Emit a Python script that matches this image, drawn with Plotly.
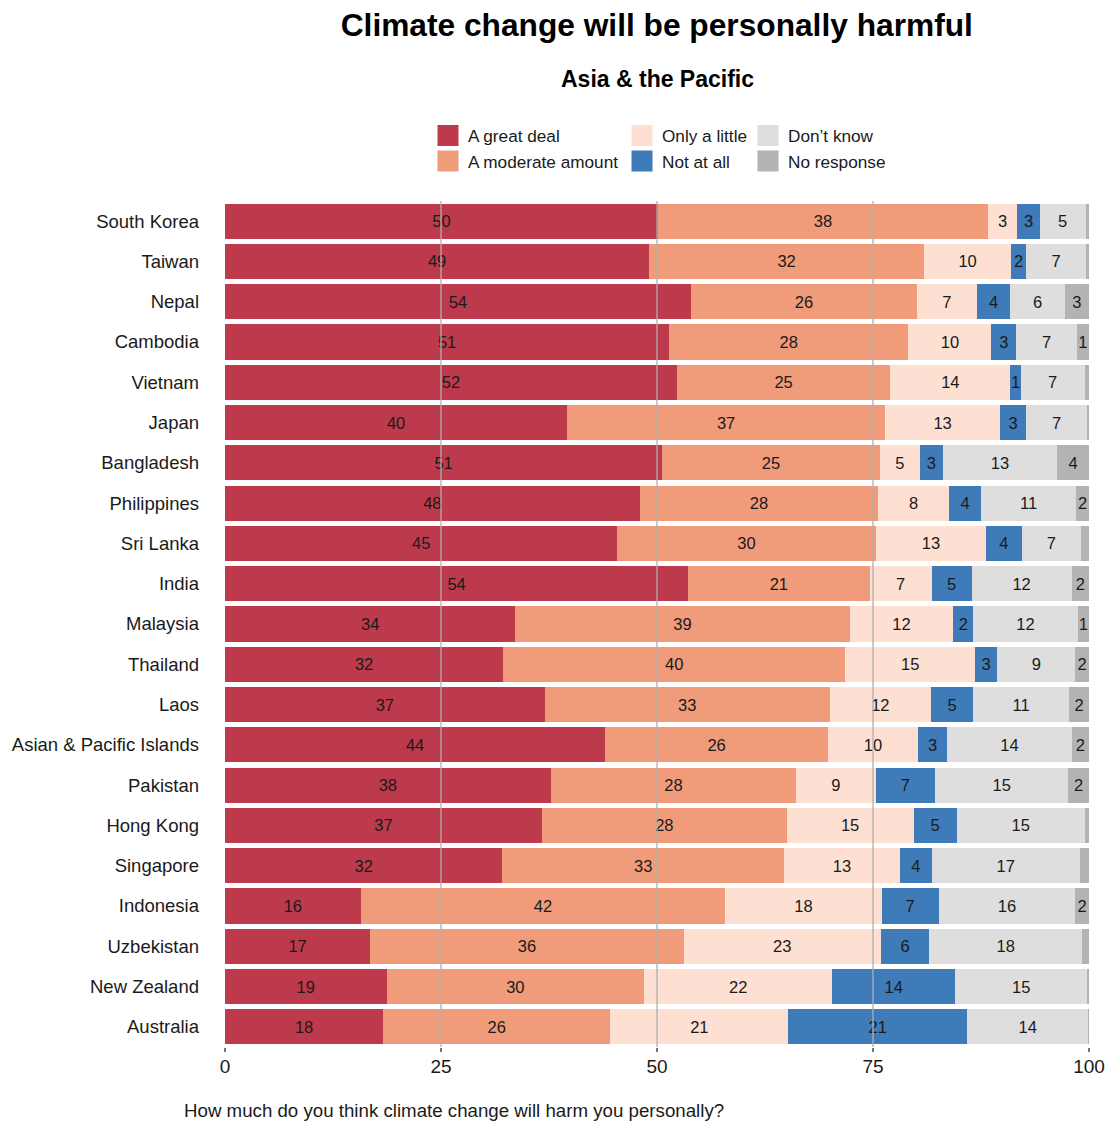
import plotly.graph_objects as go

countries = ["South Korea", "Taiwan", "Nepal", "Cambodia", "Vietnam", "Japan", "Bangladesh",
             "Philippines", "Sri Lanka", "India", "Malaysia", "Thailand", "Laos",
             "Asian & Pacific Islands", "Pakistan", "Hong Kong", "Singapore", "Indonesia",
             "Uzbekistan", "New Zealand", "Australia"]

great_deal = [50.1, 49.1, 53.9, 51.4, 52.3, 39.6, 50.6, 48.0, 45.4, 53.6, 33.6, 32.2, 37.0,
              44.0, 37.7, 36.7, 32.1, 15.7, 16.8, 18.7, 18.3]
moderate = [38.2, 31.8, 26.2, 27.7, 24.7, 36.8, 25.2, 27.6, 29.9, 21.0, 38.7, 39.6, 33.0,
            25.8, 28.4, 28.3, 32.6, 42.2, 36.3, 29.8, 26.3]
little = [3.4, 10.1, 6.9, 9.6, 13.9, 13.3, 4.6, 8.2, 12.8, 7.2, 12.0, 15.0, 11.7,
          10.4, 9.2, 14.7, 13.4, 18.1, 22.8, 21.8, 20.6]
not_at_all = [2.6, 1.7, 3.9, 2.9, 1.2, 3.0, 2.7, 3.7, 4.1, 4.6, 2.3, 2.6, 4.9,
              3.4, 6.9, 5.0, 3.7, 6.6, 5.6, 14.2, 20.7]
dont_know = [5.3, 7.0, 6.3, 7.0, 7.4, 7.1, 13.2, 11.0, 6.9, 11.6, 12.1, 9.0, 11.1,
             14.4, 15.4, 14.8, 17.1, 15.8, 17.7, 15.3, 14.0]
no_response = [0.4, 0.3, 2.8, 1.4, 0.5, 0.2, 3.7, 1.5, 0.9, 2.0, 1.3, 1.6, 2.3,
               2.0, 2.4, 0.5, 1.1, 1.6, 0.8, 0.2, 0.1]

series_names = ["A great deal", "A moderate amount", "Only a little", "Not at all",
                "Don\u2019t know", "No response"]
series_values = [great_deal, moderate, little, not_at_all, dont_know, no_response]
series_colors = ["#BC3A4B", "#F09B79", "#FDE0D1", "#3F7BB8", "#DEDEDE", "#B3B3B3"]
legend_ids = ["legend", "legend", "legend2", "legend2", "legend3", "legend3"]

x_ticks = [0, 25, 50, 75, 100]
grid_lines = [25, 50, 75]

title_text = "Climate change will be personally harmful"
subtitle_text = "Asia & the Pacific"
caption_text = "How much do you think climate change will harm you personally?"

FONT = "Liberation Sans, Arial, sans-serif"


def label(v):
    return str(int(v + 0.5)) if v >= 1.2 else ""


fig = go.Figure()
for name, vals, col in zip(series_names, series_values, series_colors):
    fig.add_trace(go.Bar(
        y=countries, x=vals, orientation="h", name=name,
        marker=dict(color=col, line=dict(width=0)),
        text=[label(v) for v in vals], textposition="inside",
        insidetextanchor="middle", textangle=0, constraintext="none",
        insidetextfont=dict(family=FONT, size=16.5, color="#1a1a1a"),
        showlegend=False, hoverinfo="x+y+name",
    ))

# legend-only entries (large square swatches)
for name, col, lg in zip(series_names, series_colors, legend_ids):
    fig.add_trace(go.Scatter(
        x=[None], y=[None], mode="markers", name=name, legend=lg,
        marker=dict(symbol="square", size=16, color=col, line=dict(color=col, width=5)),
        showlegend=True,
    ))

shapes = [dict(type="line", xref="x", yref="paper", x0=g, x1=g, y0=0, y1=1,
               line=dict(color="rgba(175,175,175,0.65)", width=2), layer="above")
          for g in grid_lines]

leg_common = dict(orientation="v", yanchor="top", xanchor="left", y=1.0982,
                  traceorder="normal",
                  font=dict(family=FONT, size=17.2, color="#1a1a1a"),
                  bgcolor="rgba(0,0,0,0)", tracegroupgap=0, itemclick=False)

fig.update_layout(
    width=1110, height=1121,
    margin=dict(l=225, r=21, t=201, b=74, autoexpand=False),
    barmode="stack", bargap=0.13,
    plot_bgcolor="white", paper_bgcolor="white",
    font=dict(family=FONT, color="#1a1a1a"),
    title=dict(text="<b>" + title_text + "</b>", x=0.5917, xanchor="center",
               y=0.978, yanchor="middle", font=dict(family=FONT, size=31.7, color="#000")),
    annotations=[
        dict(text="<b>" + subtitle_text + "</b>", xref="paper", yref="paper",
             x=0.5, y=1 + (201 - 79) / 846, xanchor="center", yanchor="middle",
             showarrow=False, font=dict(family=FONT, size=23, color="#000")),
        dict(text=caption_text, xref="paper", yref="paper",
             x=(182 - 225) / 864, y=-(1110 - 1047) / 846, xanchor="left", yanchor="middle",
             showarrow=False, font=dict(family=FONT, size=18.7, color="#1a1a1a")),
    ],
    shapes=shapes,
    xaxis=dict(range=[0, 100], tickvals=x_ticks, ticktext=[str(t) for t in x_ticks],
               showgrid=False, zeroline=False, showline=False, automargin=False,
               ticks="outside", ticklen=4, tickwidth=2, tickcolor="#777",
               ticklabelstandoff=-2,
               tickfont=dict(family=FONT, size=19, color="#1a1a1a")),
    yaxis=dict(categoryorder="array", categoryarray=countries, autorange="reversed",
               showgrid=False, zeroline=False, showline=False, ticks="", automargin=False,
               ticklabelstandoff=25,
               tickfont=dict(family=FONT, size=18.5, color="#1a1a1a")),
    legend=dict(x=(428 - 225) / 864, **leg_common),
    legend2=dict(x=(622 - 225) / 864, **leg_common),
    legend3=dict(x=(748 - 225) / 864, **leg_common),
)

fig.write_html("out.html", config={"displayModeBar": False},
               post_script="document.body.style.margin='0';")
